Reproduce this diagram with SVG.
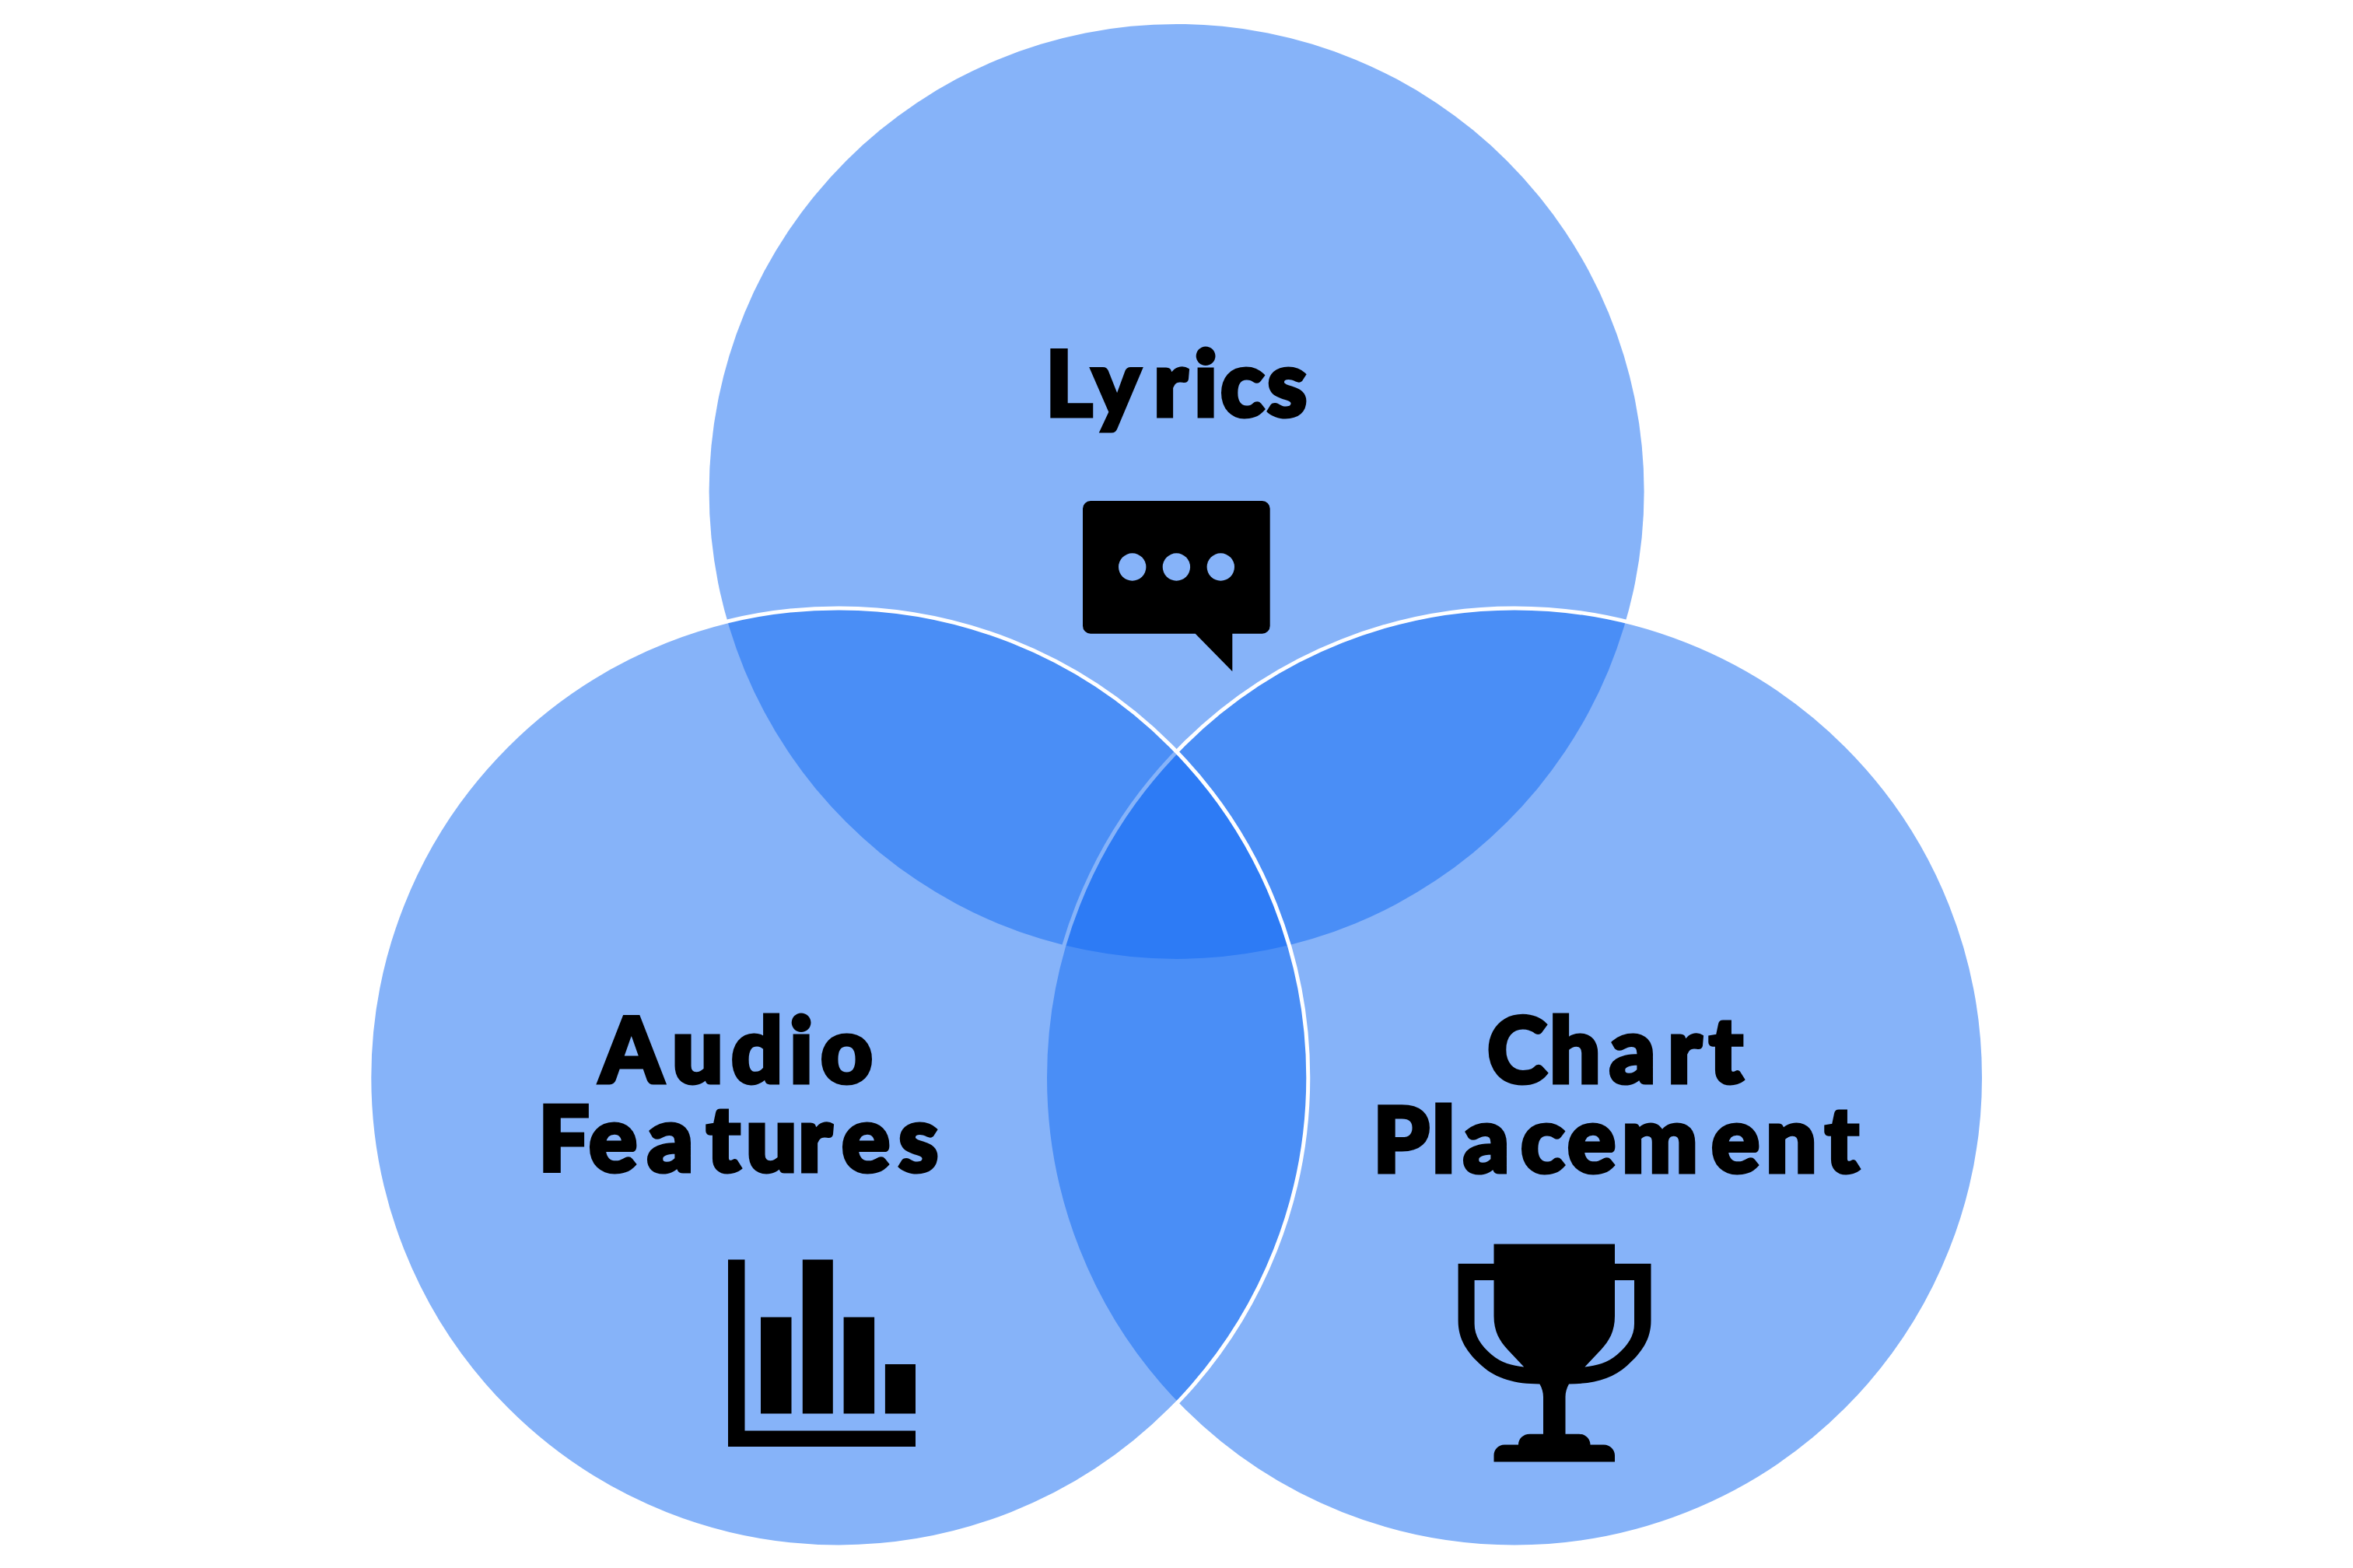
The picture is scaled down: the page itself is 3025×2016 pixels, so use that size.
<svg xmlns="http://www.w3.org/2000/svg" width="3025" height="2016" viewBox="0 0 3025 2016">
<style>
.set{fill:rgb(18,106,243);fill-opacity:.51}
.rim{fill:none;stroke:#fff;stroke-width:5}
.label{font-family:"Lato","Liberation Sans",sans-serif;font-weight:900;font-size:116px;fill:#000;stroke:#000;stroke-width:5;stroke-linejoin:miter;font-kerning:none}
.ink{fill:#000}
.hole{fill:#86b3f9}
</style>
<rect width="3025" height="2016" fill="#fff"/>
<g id="circle-lyrics"><circle class="set" cx="1512.6" cy="631.9" r="601"/></g>
<g id="circle-chart"><circle class="set" cx="1947" cy="1385.4" r="603.5"/><circle class="rim" cx="1947" cy="1385.4" r="603.5"/></g>
<g id="circle-audio"><circle class="set" cx="1078.3" cy="1385.4" r="603.5"/><circle class="rim" cx="1078.3" cy="1385.4" r="603.5"/></g>
<g id="node-lyrics">
<text class="label" x="1344 1404 1483 1535 1569 1629" y="534.5">Lyrics</text>
<path class="ink" d="M1402 644H1622.7A10 10 0 0 1 1632.7 654V804.7A10 10 0 0 1 1622.7 814.7H1584.3V863.3L1536.7 814.7H1402A10 10 0 0 1 1392 804.7V654A10 10 0 0 1 1402 644Z"/>
<circle class="hole" cx="1455.7" cy="729" r="17.7"/><circle class="hole" cx="1512.4" cy="729" r="17.7"/><circle class="hole" cx="1569.3" cy="729" r="17.7"/>
</g>
<g id="node-audio">
<text class="label" x="771 864 940 1015 1055" y="1392">Audio</text>
<text class="label" x="692 757 832 908 959 1026 1082 1155" y="1506">Features</text>
<path class="ink" d="M936 1619.5H957.5V1839.4H1177V1860H936Z"/>
<rect class="ink" x="978" y="1693.5" width="39.5" height="124"/>
<rect class="ink" x="1031.8" y="1619.5" width="39" height="198"/>
<rect class="ink" x="1084.6" y="1693.5" width="39.5" height="124"/>
<rect class="ink" x="1137.9" y="1754" width="39.1" height="63.5"/>
</g>
<g id="node-chart">
<text class="label" x="1912 1992 2069 2144 2197" y="1392">Chart</text>
<text class="label" x="1765 1841 1881 1955 2015 2085 2200 2270 2346" y="1506.5">Placement</text>
<path class="ink" fill-rule="evenodd" d="M1920.5 1599.5H2076V1624.8H2122.5V1698C2122.5 1722 2110.6 1739 2091.6 1756C2072.6 1773 2048.6 1779.4 2017 1779.4C2014 1785 2012.5 1790 2012.5 1796V1843.7H2030C2038 1843.7 2044.5 1850 2044.5 1857.4H2062C2070 1857.4 2076 1864 2076 1871V1879.5H1920.5V1871C1920.5 1864 1926 1857.4 1934 1857.4H1952C1952 1850 1958 1843.7 1966.7 1843.7H1984V1796C1984 1790 1982.5 1785 1979.4 1779.4C1948 1779.4 1924 1773 1905 1756C1886 1739 1874.6 1722 1874.6 1698V1624.8H1920.5ZM1895.6 1646H1920.5V1692C1920.5 1712 1928 1724 1938 1735L1959.2 1757.4C1944 1756 1930 1752 1918 1742C1904 1730 1895.6 1718 1895.6 1702ZM2101 1646H2076V1692C2076 1712 2068.6 1724 2058.6 1735L2037.4 1757.4C2052.6 1756 2066.6 1752 2078.6 1742C2092.6 1730 2101 1718 2101 1702Z"/>
</g>
</svg>
